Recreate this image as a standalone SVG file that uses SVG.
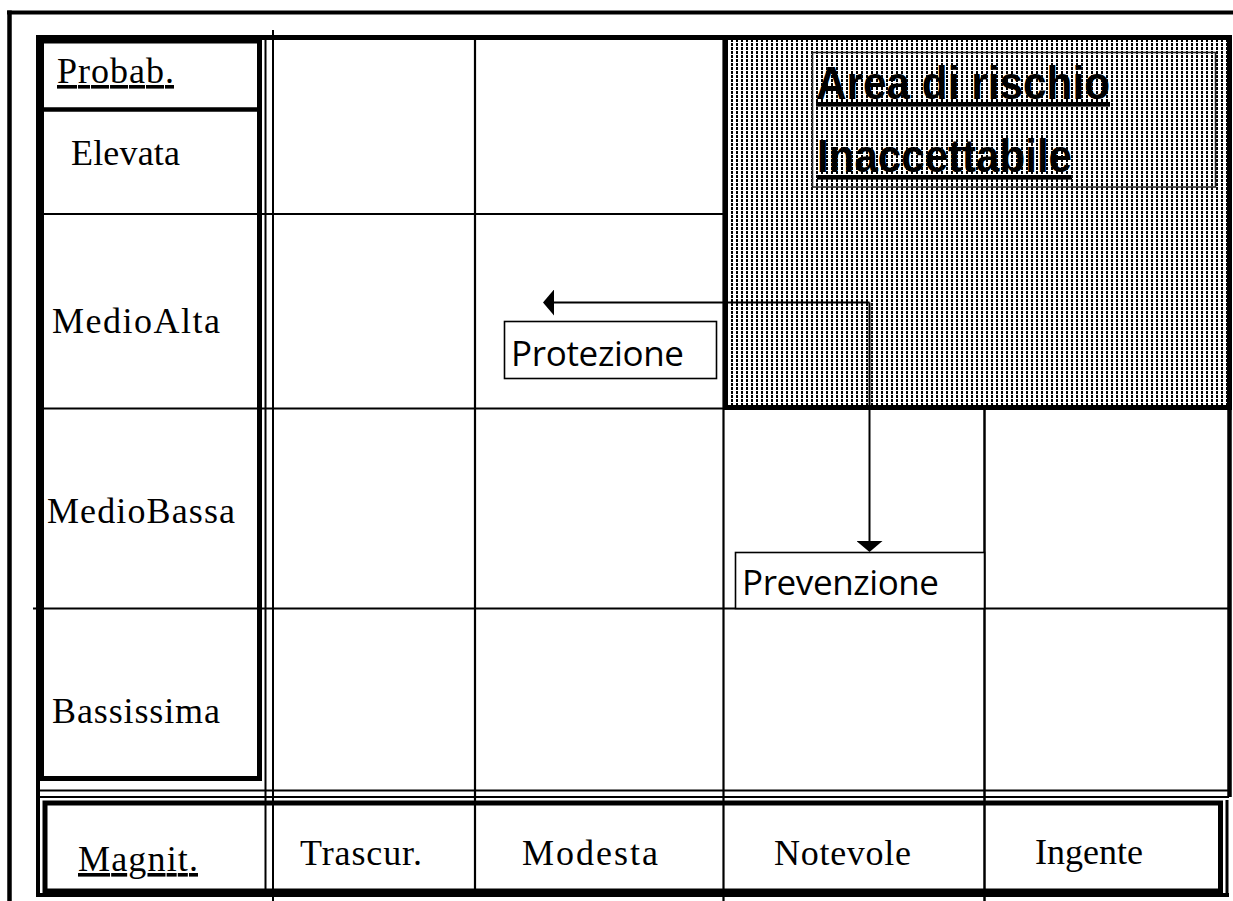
<svg xmlns="http://www.w3.org/2000/svg" width="1233" height="901" viewBox="0 0 1233 901">
<defs>
<pattern id="dots" width="5" height="4" patternUnits="userSpaceOnUse">
<rect x="1" y="0" width="2" height="2" fill="#000"/>
<rect x="1" y="3" width="2" height="1" fill="#000"/>
</pattern>
<marker id="arrow" markerUnits="userSpaceOnUse" viewBox="0 0 11 26" refX="6" refY="13" markerWidth="11" markerHeight="26" orient="auto">
<path d="M0,0 L11,13 L0,26 Z" fill="#000"/>
</marker>
<style>
.ln{stroke:#000;fill:none}
.serif{font-family:"Liberation Serif","Times New Roman",serif;font-size:36px;fill:#000}
.sans{font-family:"Open Sans","Noto Sans",sans-serif;font-size:35px;fill:#000}
.bold{font-family:"Liberation Sans",Arial,sans-serif;font-weight:bold;font-size:46px;fill:#000;text-decoration:underline}
.ul{text-decoration:underline}
.box{fill:#fff;stroke:#000;stroke-width:1.6}
</style>
</defs>
<rect width="1233" height="901" fill="#fff"/>

<g id="risk-area">
<rect x="725.5" y="37.5" width="504" height="370" fill="url(#dots)" stroke="#000" stroke-width="5"/>
<rect x="812.5" y="52.5" width="403" height="134.5" fill="none" stroke="#222" stroke-width="1.5"/>
<text class="bold" x="816" y="99" textLength="294" lengthAdjust="spacingAndGlyphs">Area di rischio</text>
<text class="bold" x="817" y="172" textLength="255" lengthAdjust="spacingAndGlyphs">Inaccettabile</text>
</g>

<g id="frame" class="ln">
<line x1="7" y1="12.5" x2="1233" y2="12.5" stroke-width="4"/>
<line x1="9.5" y1="10.5" x2="9.5" y2="901" stroke-width="4.5"/>
</g>

<g id="grid" class="ln">
<line x1="36" y1="37.5" x2="1232" y2="37.5" stroke-width="5"/>
<line x1="38" y1="35" x2="38" y2="897" stroke-width="4"/>
<line x1="1229.5" y1="35" x2="1229.5" y2="797" stroke-width="4.5"/>
<line x1="265.5" y1="40" x2="265.5" y2="897" stroke-width="2"/>
<line x1="273" y1="30" x2="273" y2="901" stroke-width="2"/>
<line x1="475" y1="40" x2="475" y2="893" stroke-width="2.2"/>
<line x1="723.5" y1="40" x2="723.5" y2="901" stroke-width="2.2"/>
<line x1="984.5" y1="409" x2="984.5" y2="901" stroke-width="2.5"/>
<line x1="43" y1="214" x2="724" y2="214" stroke-width="2.2"/>
<line x1="43" y1="408.5" x2="1228" y2="408.5" stroke-width="2.2"/>
<line x1="33" y1="608.5" x2="1228" y2="608.5" stroke-width="2.2"/>
<line x1="40" y1="790.5" x2="1229" y2="790.5" stroke-width="2"/>
<line x1="40" y1="797" x2="1229" y2="797" stroke-width="2"/>
</g>

<g id="probability-column">
<rect x="41.5" y="41" width="218" height="737.5" class="ln" stroke-width="5"/>
<line x1="43" y1="109.5" x2="262" y2="109.5" class="ln" stroke-width="4.5"/>
</g>

<g id="magnitude-row">
<rect x="45" y="803" width="1175.5" height="88" class="ln" stroke-width="5"/>
<line x1="1227" y1="800" x2="1227" y2="897" class="ln" stroke-width="3"/>
<line x1="36" y1="895" x2="1229" y2="895" class="ln" stroke-width="4"/>
</g>

<g id="label-probab"><text class="serif ul" x="57" y="83" textLength="117">Probab.</text></g>
<g id="label-elevata"><text class="serif" x="71" y="165" textLength="109">Elevata</text></g>
<g id="label-medioalta"><text class="serif" x="52" y="333" textLength="168">MedioAlta</text></g>
<g id="label-mediobassa"><text class="serif" x="47" y="523" textLength="188">MedioBassa</text></g>
<g id="label-bassissima"><text class="serif" x="52" y="723" textLength="168">Bassissima</text></g>

<g id="label-magnit"><text class="serif ul" x="78" y="871" textLength="120">Magnit.</text></g>
<g id="label-trascur"><text class="serif" x="300" y="865" textLength="122">Trascur.</text></g>
<g id="label-modesta"><text class="serif" x="522" y="865" textLength="136">Modesta</text></g>
<g id="label-notevole"><text class="serif" x="774" y="865" textLength="137">Notevole</text></g>
<g id="label-ingente"><text class="serif" x="1035" y="864" textLength="108">Ingente</text></g>

<g id="protezione">
<rect class="box" x="504.5" y="321.5" width="212" height="57"/>
<text class="sans" x="511" y="366" textLength="173">Protezione</text>
</g>

<g id="prevenzione">
<rect class="box" x="735.5" y="552.5" width="249" height="56"/>
<text class="sans" x="742" y="595" textLength="197">Prevenzione</text>
</g>

<g id="connectors" class="ln" stroke-width="2">
<path d="M869.5,302.5 H548" marker-end="url(#arrow)"/>
<path d="M869.5,302.5 V547" marker-end="url(#arrow)"/>
</g>
</svg>
